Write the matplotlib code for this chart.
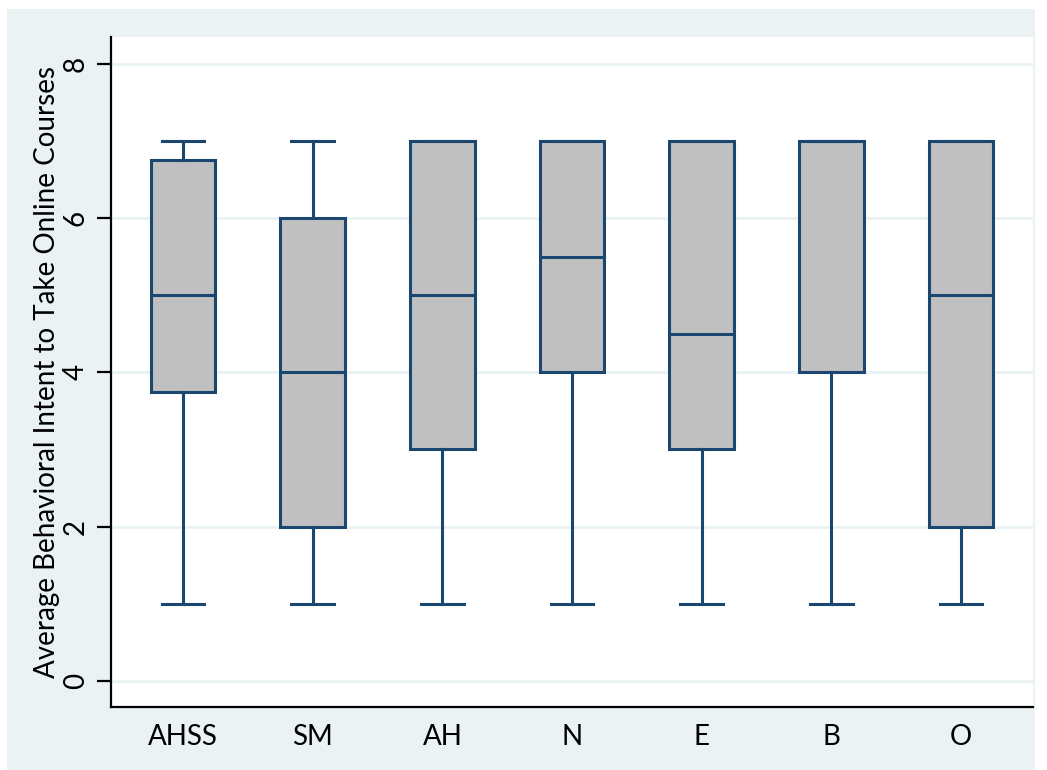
import matplotlib.pyplot as plt

# Box plot summary values
groups = ['AHSS', 'SM', 'AH', 'N', 'E', 'B', 'O']
whisker_low = [1, 1, 1, 1, 1, 1, 1]
q1 = [3.75, 2, 3, 4, 3, 4, 2]
median = [5, 4, 5, 5.5, 4.5, 7, 5]
q3 = [6.75, 6, 7, 7, 7, 7, 7]
whisker_high = [7, 7, 7, 7, 7, 7, 7]
y_ticks = [0, 2, 4, 6, 8]

navy = '#1a476f'
bg = '#eaf2f3'
fsize = 20

plt.rcParams['font.family'] = ['Lato', 'DejaVu Sans']

fig = plt.figure(figsize=(10.47, 7.70), dpi=100)
# outer light panel like Stata's s2color scheme
fig.patches.append(plt.Rectangle((7 / 1047, 0), 1028 / 1047, 761 / 770,
                                 transform=fig.transFigure, facecolor=bg,
                                 edgecolor='none', zorder=-10))
ax = fig.add_axes([111 / 1047, 63 / 770, 922 / 1047, 670 / 770])
ax.set_facecolor('white')

stats = []
for i, g in enumerate(groups):
    stats.append({'label': g, 'whislo': whisker_low[i], 'q1': q1[i],
                  'med': median[i], 'q3': q3[i], 'whishi': whisker_high[i],
                  'fliers': []})

line = dict(color=navy, linewidth=2.2)
ax.bxp(stats, positions=range(len(groups)), widths=0.5, patch_artist=True,
       showfliers=False,
       boxprops=dict(facecolor='#c0c0c0', edgecolor=navy, linewidth=2.2),
       medianprops=line, whiskerprops=line, capprops=line,
       capwidths=0.33, zorder=3)

ax.set_xlim(-0.556, len(groups) - 1 + 0.556)
ax.set_ylim(-0.34, 8.35)
ax.set_yticks(y_ticks)
ax.set_yticklabels([str(v) for v in y_ticks], rotation=90, va='center')
ax.grid(axis='y', color=bg, linewidth=2, zorder=0)
ax.set_axisbelow(True)

for side in ['top', 'right']:
    ax.spines[side].set_visible(False)
for side in ['left', 'bottom']:
    ax.spines[side].set_linewidth(1.6)
    ax.spines[side].set_color('black')

ax.tick_params(axis='y', length=10, width=1.6, labelsize=fsize, pad=6)
ax.tick_params(axis='x', length=0, labelsize=fsize, pad=12)
ax.set_ylabel('Average Behavioral Intent to Take Online Courses',
              fontsize=fsize, labelpad=2)

fig.savefig('out.png', dpi=100, facecolor='white')
